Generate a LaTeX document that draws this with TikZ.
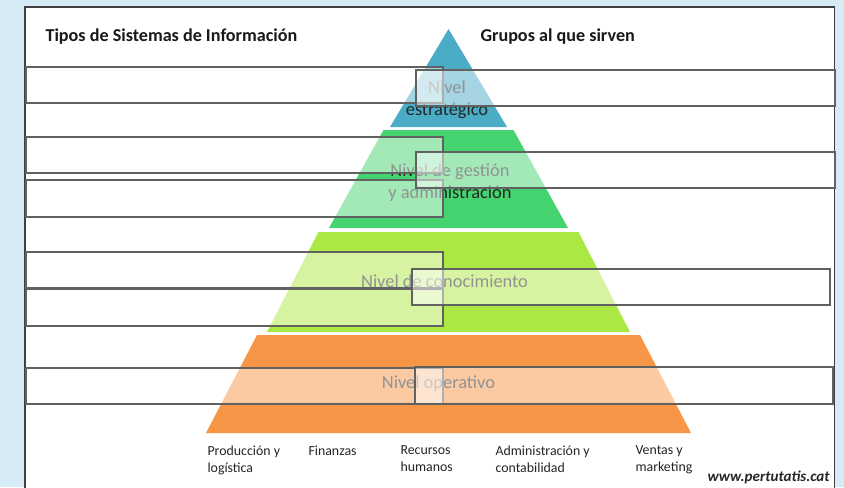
\documentclass[tikz,border=0pt]{standalone}
\usepackage{fontspec}
\setmainfont{Carlito}
\definecolor{bgblue}{HTML}{D6EBF5}
\definecolor{layerblue}{HTML}{4BACC6}
\definecolor{layergreen}{HTML}{45D36F}
\definecolor{layerlime}{HTML}{ACE843}
\definecolor{layerorange}{HTML}{F79646}
\begin{document}
\begin{tikzpicture}[x=0.75pt, y=-0.75pt, line width=0.8pt,
  every node/.style={font=\fontsize{13.8}{16.5}\selectfont, inner sep=0pt},
  box/.style={draw=black!62, fill=white, fill opacity=0.5},
  level/.style={align=center, text=black!85},
  heading/.style={font=\fontsize{13.6}{16}\selectfont\bfseries, anchor=west, text=black!90},
  group/.style={font=\fontsize{10.4}{12.75}\selectfont, align=left, anchor=north west, text=black!85}]
\def\cx{448.5}
\clip (0,0) rectangle (844,487);
\fill[bgblue] (0,0) rectangle (844,487);
\draw[line width=1.3pt, draw=black!75, fill=white] (25,7) rectangle (834.5,520);

% pyramid layers
\fill[layerblue] (\cx,29) -- (\cx+58.5,127) -- (\cx-58.5,127) -- cycle;
\fill[layergreen] (\cx-65,130) -- (\cx+65,130) -- (\cx+119.5,228) -- (\cx-119.5,228) -- cycle;
\fill[layerlime] (\cx-130,232) -- (\cx+130,232) -- (\cx+181.5,332) -- (\cx-181.5,332) -- cycle;
\fill[layerorange] (\cx-191.5,335) -- (\cx+191.5,335) -- (\cx+242.5,433) -- (\cx-242.5,433) -- cycle;

% texts under the boxes
\node[level] (strat) at (447,99.5) {Nivel\\estratégico};
\node[level] (gest) at (450,183) {Nivel de gestión\\y administración};
\node[level] (conoc) at (444.5,281) {Nivel de conocimiento};
\node[level] (oper) at (438.5,384) {Nivel operativo};

\node[heading] (tipos) at (45,37) {Tipos de Sistemas de Información};
\node[heading] (grupos) at (480,37) {Grupos al que sirven};

\node[group] (prod) at (207,445) {Producción y\\logística};
\node[group] (fin) at (308,445) {Finanzas};
\node[group] (rrhh) at (400,445) {Recursos\\humanos};
\node[group] (admin) at (495,445) {Administración y\\contabilidad};
\node[group] (ventas) at (635,445) {Ventas y\\marketing};
\node[font=\fontsize{11.3}{13}\selectfont\bfseries\itshape, anchor=west, text=black!85] (web) at (707,477) {www.pertutatis.cat};

% empty boxes
\draw[box] (26,67) rectangle (443,103);
\draw[box] (26,137) rectangle (443,173);
\draw[box] (26,180) rectangle (443,217);
\draw[box] (26,252) rectangle (443,288);
\draw[box] (26,289) rectangle (443,326);
\draw[box] (26,368) rectangle (443,404);
\draw[box] (416,70) rectangle (835,106);
\draw[box] (416,152) rectangle (835,188);
\draw[box] (412,269) rectangle (830,305);
\draw[box] (415,367) rectangle (833,404);
\end{tikzpicture}
\end{document}
